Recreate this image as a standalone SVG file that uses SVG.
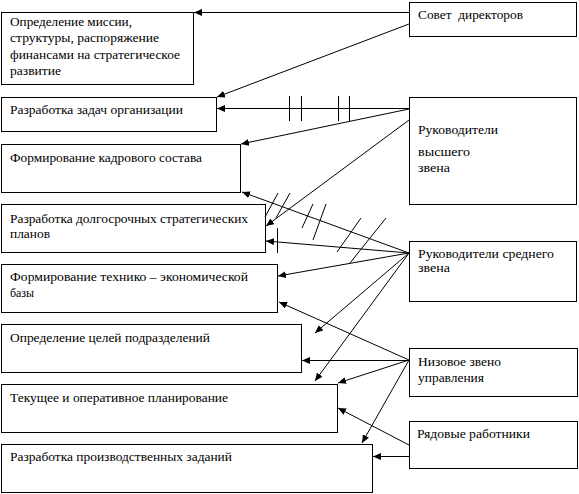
<svg xmlns="http://www.w3.org/2000/svg" width="579" height="494" viewBox="0 0 579 494">
<style>
.box{fill:#fff;stroke:#000;stroke-width:1}
.t{font-family:"Liberation Serif","Times New Roman",serif;font-size:12px;fill:#000}
.c{fill:none;stroke:#000;stroke-width:1}
.h{fill:none;stroke:#000;stroke-width:1}
</style>
<defs>
<marker id="a" markerUnits="userSpaceOnUse" markerWidth="9" markerHeight="7" refX="8" refY="3.5" orient="auto">
<path d="M0,0 L8,3.5 L0,7 z" fill="#000"/>
</marker>
</defs>
<rect width="579" height="494" fill="#fff"/>
<g id="n1"><rect class="box" x="1.5" y="12.5" width="192" height="72"/>
<text class="t" x="10" y="26" textLength="122" lengthAdjust="spacingAndGlyphs">Определение миссии,</text>
<text class="t" x="10" y="42" textLength="149" lengthAdjust="spacingAndGlyphs">структуры, распоряжение</text>
<text class="t" x="10" y="59" textLength="170" lengthAdjust="spacingAndGlyphs">финансами на стратегическое</text>
<text class="t" x="10" y="75" textLength="51" lengthAdjust="spacingAndGlyphs">развитие</text></g>
<g id="n2"><rect class="box" x="1.5" y="97.5" width="215" height="34"/>
<text class="t" x="10" y="114" textLength="173" lengthAdjust="spacingAndGlyphs">Разработка задач организации</text></g>
<g id="n3"><rect class="box" x="1.5" y="144.5" width="239" height="48"/>
<text class="t" x="10" y="162" textLength="192" lengthAdjust="spacingAndGlyphs">Формирование кадрового состава</text></g>
<g id="n4"><rect class="box" x="1.5" y="204.5" width="264" height="48"/>
<text class="t" x="10" y="223" textLength="238" lengthAdjust="spacingAndGlyphs">Разработка долгосрочных стратегических</text>
<text class="t" x="10" y="238" textLength="40" lengthAdjust="spacingAndGlyphs">планов</text></g>
<g id="n5"><rect class="box" x="1.5" y="264.5" width="276" height="48"/>
<text class="t" x="10" y="281" textLength="238" lengthAdjust="spacingAndGlyphs">Формирование технико – экономической</text>
<text class="t" x="10" y="297" textLength="24" lengthAdjust="spacingAndGlyphs">базы</text></g>
<g id="n6"><rect class="box" x="1.5" y="324.5" width="300" height="48"/>
<text class="t" x="10" y="342" textLength="200" lengthAdjust="spacingAndGlyphs">Определение целей подразделений</text></g>
<g id="n7"><rect class="box" x="1.5" y="384.5" width="336" height="48"/>
<text class="t" x="10" y="402" textLength="218" lengthAdjust="spacingAndGlyphs">Текущее и оперативное планирование</text></g>
<g id="n8"><rect class="box" x="1.5" y="444.5" width="371" height="48"/>
<text class="t" x="10" y="461" textLength="222" lengthAdjust="spacingAndGlyphs">Разработка производственных заданий</text></g>
<g id="r1"><rect class="box" x="409.5" y="2.5" width="167" height="34"/>
<text class="t" x="418" y="19" textLength="105" lengthAdjust="spacingAndGlyphs" xml:space="preserve">Совет  директоров</text></g>
<g id="r2"><rect class="box" x="409.5" y="97.5" width="167" height="107"/>
<text class="t" x="418" y="134" textLength="80" lengthAdjust="spacingAndGlyphs">Руководители</text>
<text class="t" x="418" y="156" textLength="52" lengthAdjust="spacingAndGlyphs">высшего</text>
<text class="t" x="418" y="172" textLength="32" lengthAdjust="spacingAndGlyphs">звена</text></g>
<g id="r3"><rect class="box" x="409.5" y="241.5" width="167" height="60"/>
<text class="t" x="418" y="258" textLength="136" lengthAdjust="spacingAndGlyphs">Руководители среднего</text>
<text class="t" x="418" y="272" textLength="32" lengthAdjust="spacingAndGlyphs">звена</text></g>
<g id="r4"><rect class="box" x="409.5" y="348.5" width="168" height="48"/>
<text class="t" x="418" y="366" textLength="83" lengthAdjust="spacingAndGlyphs">Низовое звено</text>
<text class="t" x="418" y="382" textLength="66" lengthAdjust="spacingAndGlyphs">управления</text></g>
<g id="r5"><rect class="box" x="409.5" y="421.5" width="168" height="47"/>
<text class="t" x="417" y="438" textLength="113" lengthAdjust="spacingAndGlyphs">Рядовые работники</text></g>
<g id="connectors">
<path class="c" marker-end="url(#a)" d="M409,12.5 H194"/>
<path class="c" marker-end="url(#a)" d="M409,24 L217,97"/>
<path class="c" marker-end="url(#a)" d="M409,108.5 H217"/>
<path class="c" marker-end="url(#a)" d="M409,109 L241,144"/>
<path class="c" marker-end="url(#a)" d="M409,120 L266,226"/>
<path class="c" marker-end="url(#a)" d="M409,253 L242,192"/>
<path class="c" marker-end="url(#a)" d="M409,253 L266,241"/>
<path class="c" marker-end="url(#a)" d="M409,253 L278,276"/>
<path class="c" marker-end="url(#a)" d="M409,253 L315,333"/>
<path class="c" marker-end="url(#a)" d="M409,253 L315,381"/>
<path class="c" marker-end="url(#a)" d="M409,360 L279,302"/>
<path class="c" marker-end="url(#a)" d="M409,360.5 H302"/>
<path class="c" marker-end="url(#a)" d="M409,360 L338,383"/>
<path class="c" marker-end="url(#a)" d="M409,360 L362,443"/>
<path class="c" marker-end="url(#a)" d="M409,445 L338,408"/>
<path class="c" marker-end="url(#a)" d="M409,456.5 H373"/>
<path class="h" d="M289.5,96 V121 M301.5,96 V121 M338.5,96 V121 M349.5,96 V121"/>
<path class="h" d="M265,217 L278,193 M276,218 L290,193 M302,228 L313,204 M313,240 L326,204 M337,252 L361,218 M350,263 L386,218"/>
<path class="h" d="M277.5,228 V253"/>
</g>
</svg>
